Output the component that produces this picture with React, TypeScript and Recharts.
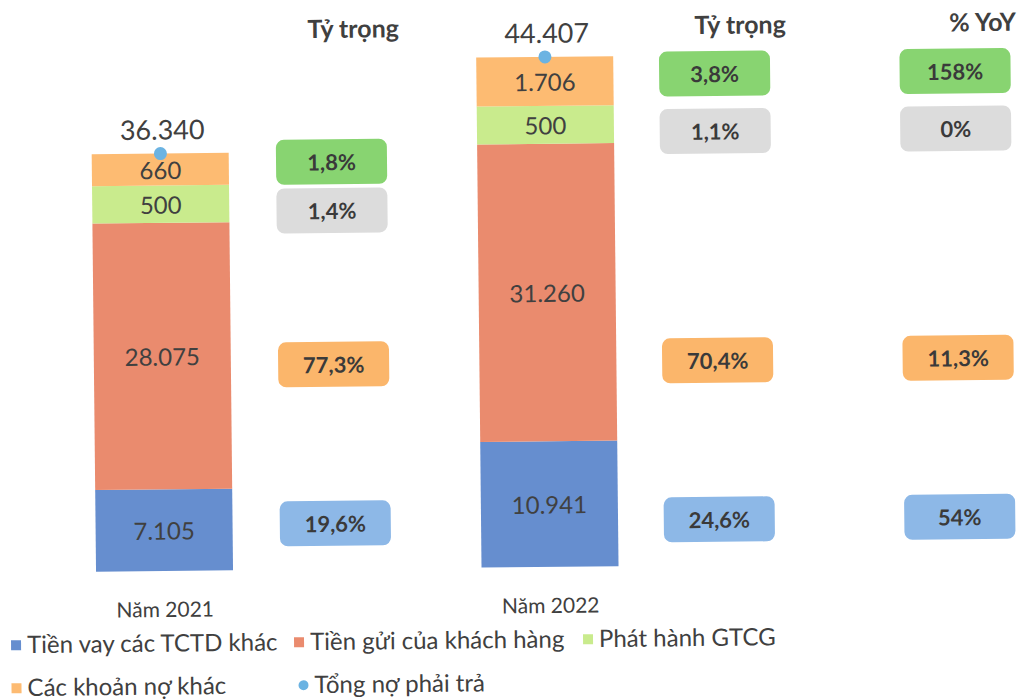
import React from 'react';
import { ComposedChart, Bar, Scatter, XAxis, YAxis, Legend, LabelList } from 'recharts';

// ---------------- data ----------------
const years = ['Năm 2021', 'Năm 2022'];

// values printed on the bars
const interbankBorrowing = [7105, 10941]; // Tiền vay các TCTD khác
const customerDeposits = [28075, 31260]; // Tiền gửi của khách hàng
const bondIssuance = [500, 500]; // Phát hành GTCG
const otherLiabilities = [660, 1706]; // Các khoản nợ khác
const totalLiabilities = [36340, 44407]; // Tổng nợ phải trả

// segment heights as drawn in the picture (small items are drawn enlarged)
const interbankBorrowingDrawn = [7105, 10941];
const customerDepositsDrawn = [23200, 25900];
const bondIssuanceDrawn = [3250, 3300];
const otherLiabilitiesDrawn = [2785, 4266];

// side table, rows: other liabilities, bonds, deposits, interbank
const share2021 = [1.8, 1.4, 77.3, 19.6];
const share2022 = [3.8, 1.1, 70.4, 24.6];
const yoyGrowth = [158, 0, 11.3, 54];
const tableHeaders = ['Tỷ trọng', 'Tỷ trọng', '% YoY'];

const seriesNames = {
  interbank: 'Tiền vay các TCTD khác',
  deposits: 'Tiền gửi của khách hàng',
  bonds: 'Phát hành GTCG',
  other: 'Các khoản nợ khác',
  total: 'Tổng nợ phải trả',
};

// ---------------- styles ----------------
const FONT = 'Lato, "Open Sans", sans-serif';
const TEXT = '#404040';
const C_BLUE = '#668ecf';
const C_SALMON = '#ea8b6e';
const C_GREEN = '#c9eb8d';
const C_ORANGE = '#fdbb72';
const C_DOT = '#6bb3e2';
const PILL_FILLS = ['#88d471', '#dcdcdc', '#fbb66b', '#8db8e7'];
const Y_MAX = 48000;

const fmtInt = (v: number) => String(v).replace(/\B(?=(\d{3})+(?!\d))/g, '.');
const fmtPct = (v: number) => String(v).replace('.', ',') + '%';

const chartData = years.map((year, i) => ({
  year,
  interbank: interbankBorrowingDrawn[i],
  interbankLabel: interbankBorrowing[i],
  deposits: customerDepositsDrawn[i],
  depositsLabel: customerDeposits[i],
  bonds: bondIssuanceDrawn[i],
  bondsLabel: bondIssuance[i],
  other: otherLiabilitiesDrawn[i],
  otherLabel: otherLiabilities[i],
  total: totalLiabilities[i],
}));

// midpoint (in data units) of a segment; row 0 other, 1 bonds, 2 deposits, 3 interbank
const segMid = (yi: number, row: number) => {
  const ib = interbankBorrowingDrawn[yi];
  const dp = customerDepositsDrawn[yi];
  const bd = bondIssuanceDrawn[yi];
  const ot = otherLiabilitiesDrawn[yi];
  if (row === 3) return ib / 2;
  if (row === 2) return ib + dp / 2;
  if (row === 1) return ib + dp + bd / 2;
  return ib + dp + bd + ot / 2;
};

// table columns: which year they sit beside, horizontal offset from that bar
const columns = [
  { yearIdx: 0, values: share2021, dx: 171 },
  { yearIdx: 1, values: share2022, dx: 169.5 },
  { yearIdx: 1, values: yoyGrowth, dx: 410 },
];
const rowNudge = [-6, 8, 10, -5];

const pillData = columns.map((col) =>
  col.values.map((v, row) => ({
    year: years[col.yearIdx],
    y: segMid(row < 2 ? col.yearIdx : 0, row),
    text: fmtPct(v),
    row,
    dx: col.dx,
  }))
);

const headerData = columns.map((col, c) => ({
  year: years[col.yearIdx],
  y: Y_MAX,
  text: tableHeaders[c],
  dx: col.dx + [23, 26, 28][c],
}));

// ---------------- shapes ----------------
const Pill = (props: any) => {
  const { cx, cy, payload } = props;
  if (cx == null || cy == null) return null;
  const w = 111;
  const h = 45;
  const x = cx + payload.dx;
  const y = cy + rowNudge[payload.row];
  return (
    <g>
      <rect x={x - w / 2} y={y - h / 2} width={w} height={h} rx={8} ry={8} fill={PILL_FILLS[payload.row]} />
      <text x={x} y={y} textAnchor="middle" dominantBaseline="central" fontFamily={FONT} fontWeight={700} fontSize={22} fill="#3a3a3a">
        {payload.text}
      </text>
    </g>
  );
};

const Header = (props: any) => {
  const { cx, cy, payload } = props;
  if (cx == null || cy == null) return null;
  return (
    <text x={cx + payload.dx} y={cy + 20} textAnchor="middle" fontFamily={FONT} fontWeight={700} fontSize={25} fill={TEXT}>
      {payload.text}
    </text>
  );
};

const TotalDot = (props: any) => {
  const { cx, cy, payload } = props;
  if (cx == null || cy == null) return null;
  return (
    <g>
      <circle cx={cx} cy={cy} r={6.5} fill={C_DOT} />
      <text x={cx + 2} y={cy - 14} textAnchor="middle" fontFamily={FONT} fontSize={27} fill={TEXT}>
        {fmtInt(payload.total)}
      </text>
    </g>
  );
};

const CategoryTick = (props: any) => {
  const { x, y, payload } = props;
  return (
    <text x={x} y={y + 46} textAnchor="middle" fontFamily={FONT} fontSize={21} fill={TEXT}>
      {payload.value}
    </text>
  );
};

const ValueLabel = (props: any) => {
  const { x, y, width, height, value } = props;
  return (
    <text x={x + width / 2} y={y + height / 2} textAnchor="middle" dominantBaseline="central" fontFamily={FONT} fontSize={24} fill={TEXT}>
      {fmtInt(value)}
    </text>
  );
};

const legendItems = [
  { name: seriesNames.interbank, color: C_BLUE, shape: 'square', left: 8, top: 26 },
  { name: seriesNames.deposits, color: C_SALMON, shape: 'square', left: 291, top: 26 },
  { name: seriesNames.bonds, color: C_GREEN, shape: 'square', left: 580, top: 26 },
  { name: seriesNames.other, color: C_ORANGE, shape: 'square', left: 8, top: 69 },
  { name: seriesNames.total, color: C_DOT, shape: 'circle', left: 295, top: 69 },
];

const LegendContent = () => (
  <div style={{ position: 'relative', width: 1022, height: 80, fontFamily: FONT }}>
    {legendItems.map((it) => (
      <div key={it.name} style={{ position: 'absolute', left: it.left, top: it.top - 22, height: 30, display: 'flex', alignItems: 'center', whiteSpace: 'nowrap' }}>
        <span
          style={{
            display: 'inline-block',
            width: 10,
            height: 10,
            background: it.color,
            borderRadius: it.shape === 'circle' ? 5 : 0,
            marginRight: 6,
            marginTop: 2,
          }}
        />
        <span style={{ fontSize: 24, color: TEXT, lineHeight: '30px' }}>{it.name}</span>
      </div>
    ))}
  </div>
);

export default function App() {
  return (
    <div
      style={{
        position: 'absolute',
        left: 0,
        top: 0,
        width: 1022,
        height: 700,
        background: '#ffffff',
        fontFamily: FONT,
        transform: 'rotate(-0.6deg)',
        transformOrigin: '511px 350px',
      }}
    >
      <ComposedChart
        width={1022}
        height={700}
        data={chartData}
        margin={{ top: 16, right: 281.25, bottom: 3, left: -30.25 }}
      >
        <XAxis
          dataKey="year"
          type="category"
          allowDuplicatedCategory={false}
          axisLine={false}
          tickLine={false}
          tickSize={0}
          tickMargin={0}
          interval={0}
          height={39}
          tick={<CategoryTick />}
        />
        <YAxis hide type="number" domain={[0, Y_MAX]} />
        <Legend verticalAlign="bottom" height={80} content={() => <LegendContent />} wrapperStyle={{ left: 0, bottom: 0, width: 1022, height: 80 }} />
        <Bar dataKey="interbank" name={seriesNames.interbank} stackId="s" fill={C_BLUE} barSize={137} isAnimationActive={false}>
          <LabelList dataKey="interbankLabel" content={<ValueLabel />} />
        </Bar>
        <Bar dataKey="deposits" name={seriesNames.deposits} stackId="s" fill={C_SALMON} barSize={137} isAnimationActive={false}>
          <LabelList dataKey="depositsLabel" content={<ValueLabel />} />
        </Bar>
        <Bar dataKey="bonds" name={seriesNames.bonds} stackId="s" fill={C_GREEN} barSize={137} isAnimationActive={false}>
          <LabelList dataKey="bondsLabel" content={<ValueLabel />} />
        </Bar>
        <Bar dataKey="other" name={seriesNames.other} stackId="s" fill={C_ORANGE} barSize={137} isAnimationActive={false}>
          <LabelList dataKey="otherLabel" content={<ValueLabel />} />
        </Bar>
        <Scatter dataKey="total" name={seriesNames.total} fill={C_DOT} shape={<TotalDot />} isAnimationActive={false} />
        {pillData.map((d, c) => (
          <Scatter key={'col' + c} data={d} dataKey="y" legendType="none" shape={<Pill />} isAnimationActive={false} />
        ))}
        <Scatter data={headerData} dataKey="y" legendType="none" shape={<Header />} isAnimationActive={false} />
      </ComposedChart>
    </div>
  );
}
